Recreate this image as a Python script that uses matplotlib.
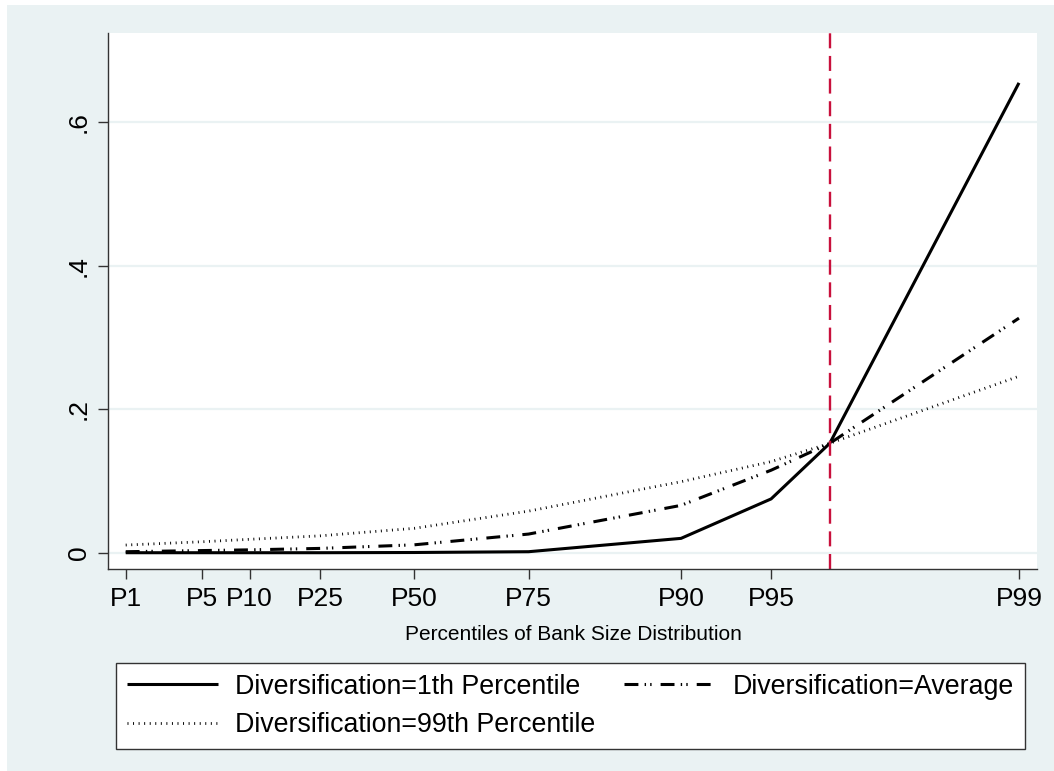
import numpy as np
import matplotlib
matplotlib.use("Agg")
import matplotlib.pyplot as plt
from matplotlib.patches import Rectangle

plt.rcParams['font.family'] = ['Liberation Sans', 'DejaVu Sans']
plt.rcParams['lines.scale_dashes'] = False

# bank size (log scale units) at each percentile, plus the crossing point
tick_labels = ['P1', 'P5', 'P10', 'P25', 'P50', 'P75', 'P90', 'P95', 'P99']
tick_pos = [10.0, 10.515, 10.833, 11.304, 11.938, 12.706, 13.730, 14.335, 16.0]
threshold = 14.729

x = [10.0, 10.515, 10.833, 11.304, 11.938, 12.706, 13.730, 14.335, 14.729, 16.0]
div_p1 = [0.0, 0.0, 0.0, 0.0, 0.0003, 0.0014, 0.020, 0.075, 0.1525, 0.655]
div_avg = [0.0014, 0.003, 0.004, 0.006, 0.011, 0.026, 0.066, 0.115, 0.1525, 0.327]
div_p99 = [0.0107, 0.0153, 0.0187, 0.0235, 0.034, 0.058, 0.099, 0.127, 0.1525, 0.246]

y_ticks = [0, 0.2, 0.4, 0.6]
y_labels = ['0', '.2', '.4', '.6']

bg = '#EAF2F3'
W, H = 1054, 771

fig = plt.figure(figsize=(W/100, H/100), dpi=100, facecolor='white')
fig.patches.append(Rectangle((7/W, 0), 1, 1-5/H, transform=fig.transFigure,
                             facecolor=bg, edgecolor='none', zorder=-10))

ax = fig.add_axes([108/W, (H-569)/H, (1037-108)/W, (569-33)/H])
ax.set_facecolor('white')

for yv in y_ticks:
    ax.axhline(yv, color=bg, lw=1.6, zorder=0)

ax.plot(x, div_p1, color='black', lw=2.2, solid_capstyle='butt',
        label='Diversification=1th Percentile')
ax.plot(x, div_p99, color='black', lw=2.0, linestyle=(0, (0.7, 3.3)),
        label='Diversification=99th Percentile')
ax.plot(x, div_avg, color='black', lw=2.2,
        linestyle=(0, (10, 4.5, 1, 3, 1, 6.5)),
        label='Diversification=Average')

ax.axvline(threshold, color='#C8103C', lw=1.7, linestyle=(0, (10.8, 5.5)))

ax.set_xlim(9.881, 16.121)
ax.set_ylim(-0.0227, 0.7245)

ax.set_xticks(tick_pos)
ax.set_xticklabels(tick_labels, fontsize=19)
ax.set_yticks(y_ticks)
ax.set_yticklabels(y_labels, fontsize=19, rotation=90, va='center')
ax.tick_params(axis='x', length=7.2, width=1, pad=5.5, colors='#333333', labelcolor='black')
ax.tick_params(axis='y', length=7.2, width=1, pad=5, colors='#333333', labelcolor='black')

for s in ['top', 'right']:
    ax.spines[s].set_visible(False)
for s in ['left', 'bottom']:
    ax.spines[s].set_color('#333333')
    ax.spines[s].set_linewidth(1)

fig.text(573/W, 1-634/H, 'Percentiles of Bank Size Distribution',
         fontsize=15, ha='center', va='center')

handles, labels = ax.get_legend_handles_labels()
leg = fig.legend(handles, labels, ncol=2, loc='lower left',
                 bbox_to_anchor=(116/W, (H-749)/H, 909/W, 87/H),
                 mode='expand', borderaxespad=0, fontsize=19.3,
                 frameon=True, fancybox=False, edgecolor='#333333',
                 facecolor='white', framealpha=1,
                 handlelength=3.4, handletextpad=0.65, labelspacing=0.47,
                 borderpad=0.4, columnspacing=2.0)
leg.get_frame().set_linewidth(1)

fig.savefig('out.png', dpi=100, facecolor=fig.get_facecolor())
